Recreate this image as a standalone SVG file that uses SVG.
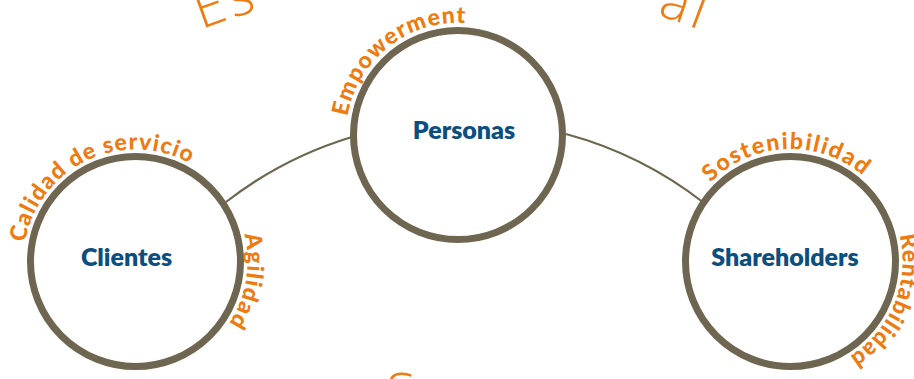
<svg xmlns="http://www.w3.org/2000/svg" xmlns:xlink="http://www.w3.org/1999/xlink" width="914" height="379" viewBox="0 0 914 379">
<style>
.ring{fill:#ffffff;stroke:#6E6650;stroke-width:7}
.conn{fill:none;stroke:#6E6650;stroke-width:2.2}
.node{font-family:Lato,"Liberation Sans",sans-serif;font-weight:800;font-size:25px;fill:#0B4F80;text-anchor:middle}
.lab{font-family:Lato,"Liberation Sans",sans-serif;font-weight:900;font-size:23px;fill:#EE7A10}
.big{font-family:"Open Sans","Liberation Sans",sans-serif;font-weight:300;font-size:54px;fill:#EE7A10;letter-spacing:4px}
</style>
<defs>
<path id="pBig" d="M104,76 A692,692 0 0 1 796,76"/>
<path id="pEmp" d="M347.5,116.5 A112,112 0 0 1 555,79"/>
<path id="pCal" d="M25.1,242.6 A112,112 0 0 1 232.5,205.5"/>
<path id="pAgi" d="M244.2,234.4 A112,112 0 0 1 154.9,371.8"/>
<path id="pSos" d="M710.6,182.5 A112,112 0 0 1 895.7,222.7"/>
<path id="pRen" d="M899.5,235 A112,112 0 0 1 790.5,373"/>
</defs>
<g id="background-text">
<text class="big"><textPath xlink:href="#pBig" startOffset="108">Es</textPath></text>
<text class="big"><textPath xlink:href="#pBig" startOffset="572">al</textPath></text>
<text class="big" x="386" y="411">S</text>
</g>
<g id="connectors">
<path class="conn" d="M226,202 A388,388 0 0 1 352,137"/>
<path class="conn" d="M566,134 A388,388 0 0 1 704,203"/>
</g>
<g id="node-personas">
<circle class="ring" cx="458" cy="135" r="104.5"/>
<text class="node" x="464" y="139">Personas</text>
<text class="lab" letter-spacing="1.3"><textPath xlink:href="#pEmp">Empowerment</textPath></text>
</g>
<g id="node-clientes">
<circle class="ring" cx="135.5" cy="261.5" r="105"/>
<text class="node" x="126.5" y="266">Clientes</text>
<text class="lab" letter-spacing="1.1"><textPath xlink:href="#pCal">Calidad de servicio</textPath></text>
<text class="lab" letter-spacing="1.2"><textPath xlink:href="#pAgi">Agilidad</textPath></text>
</g>
<g id="node-shareholders">
<circle class="ring" cx="790.5" cy="261.5" r="105"/>
<text class="node" x="785" y="266">Shareholders</text>
<text class="lab" letter-spacing="1.7"><textPath xlink:href="#pSos">Sostenibilidad</textPath></text>
<text class="lab" letter-spacing="1.0"><textPath xlink:href="#pRen">Rentabilidad</textPath></text>
</g>
</svg>
